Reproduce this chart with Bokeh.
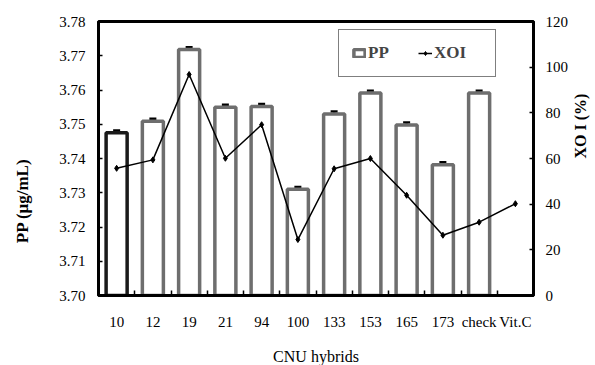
import math
from bokeh.plotting import figure
from bokeh.models import (Range1d, LinearAxis, FixedTicker, Whisker, ColumnDataSource,
                          Legend, LegendItem, TeeHead)
from bokeh.embed import file_html
from bokeh.resources import INLINE

categories = ["10", "12", "19", "21", "94", "100", "133", "153", "165", "173", "check", "Vit.C"]
pp = [3.7475, 3.7509, 3.7718, 3.7550, 3.7552, 3.7310, 3.7530, 3.7591, 3.7498, 3.7382, 3.7591]
pp_err = [0.0007, 0.0007, 0.0007, 0.0007, 0.0007, 0.0007, 0.0007, 0.0007, 0.0007, 0.0007, 0.0007]
xoi = [55.7, 59.4, 96.8, 60.1, 74.8, 24.5, 55.5, 60.0, 43.9, 26.4, 32.1, 40.2]
left_ticks = [3.70, 3.71, 3.72, 3.73, 3.74, 3.75, 3.76, 3.77, 3.78]
right_ticks = [0, 20, 40, 60, 80, 100, 120]

FONT = "Liberation Serif"
pos = list(range(1, len(categories) + 1))
bar_pos = pos[:len(pp)]
bar_colors = ["#1a1a1a"] + ["#6e6e6e"] * (len(pp) - 1)
x_lo, x_hi = 0.5, len(categories) + 0.5

p = figure(frame_width=435, frame_height=274, output_backend="svg", toolbar_location=None,
           x_range=Range1d(x_lo, x_hi), y_range=Range1d(left_ticks[0], left_ticks[-1]))
p.min_border_left = 97
p.min_border_right = 58
p.min_border_top = 21
p.min_border_bottom = 65
p.grid.visible = False
p.outline_line_color = "black"
p.outline_line_width = 3
p.background_fill_color = "white"
p.border_fill_color = "white"

p.extra_y_ranges = {"xoi": Range1d(right_ticks[0], right_ticks[-1])}

src = ColumnDataSource(dict(x=bar_pos, top=pp, lower=[v - e for v, e in zip(pp, pp_err)],
                            upper=[v + e for v, e in zip(pp, pp_err)], color=bar_colors))
bars = p.vbar(x="x", top="top", bottom=left_ticks[0], width=0.58, source=src,
              fill_color="white", line_color="color", line_width=3.5)
w = Whisker(base="x", lower="lower", upper="upper", source=src, line_color="black", line_width=2.5,
            upper_head=TeeHead(size=7, line_color="black", line_width=2.5),
            lower_head=TeeHead(size=7, line_color="black", line_width=2.5))
p.add_layout(w)

line = p.line(pos, xoi, line_color="black", line_width=1.5, y_range_name="xoi")
pts = p.scatter(pos, xoi, marker="diamond", size=6, color="black", y_range_name="xoi")

# axes styling
xa = p.xaxis[0]
xa.ticker = FixedTicker(ticks=pos, minor_ticks=[v + 0.5 for v in pos[:-1]])
xa.major_label_overrides = {v: c for v, c in zip(pos, categories)}
xa.major_tick_line_color = None
xa.minor_tick_in = 5
xa.minor_tick_out = 0
xa.minor_tick_line_width = 1.5
xa.axis_label = "CNU hybrids"
xa.major_label_standoff = 12
xa.axis_label_standoff = 15

ya = p.yaxis[0]
ya.ticker = FixedTicker(ticks=left_ticks)
ya.major_label_overrides = {v: f"{v:.2f}" for v in left_ticks}
ya.major_label_standoff = 13
ya.axis_label = "PP (μg/mL)"
ya.axis_label_orientation = math.pi / 2
ya.axis_label_text_align = "right"
ya.axis_label_text_baseline = "middle"
ya.axis_label_standoff = 34

ra = LinearAxis(y_range_name="xoi", ticker=FixedTicker(ticks=right_ticks), axis_label="XO I (%)")
ra.major_label_standoff = 12
ra.axis_label_orientation = math.pi / 2
ra.axis_label_text_align = "center"
ra.axis_label_text_baseline = "middle"
ra.axis_label_standoff = 9
p.add_layout(ra, "right")

for ax in [xa, ya, ra]:
    ax.axis_line_color = "black"
    ax.axis_line_width = 3
    ax.major_label_text_font = FONT
    ax.major_label_text_font_size = "15px"
    ax.major_label_text_color = "black"
    ax.axis_label_text_font = FONT
    ax.axis_label_text_color = "black"
for ax in [ya, ra]:
    ax.major_tick_in = 4
    ax.major_tick_out = 0
    ax.major_tick_line_width = 1.5
    ax.minor_tick_line_color = None
    ax.axis_label_text_font_style = "bold"
xa.axis_label_text_font_style = "normal"
xa.axis_label_text_font_size = "16px"
ya.axis_label_text_font_size = "17px"
ra.axis_label_text_font_size = "16px"

legend = Legend(items=[LegendItem(label="PP", renderers=[bars], index=1),
                       LegendItem(label="XOI", renderers=[line, pts])],
                orientation="horizontal", location=(240, 218))
legend.label_text_font = FONT
legend.label_text_font_style = "bold"
legend.label_text_font_size = "17px"
legend.border_line_color = "black"
legend.border_line_width = 1.5
legend.padding = 13
legend.margin = 0
legend.spacing = 2
legend.glyph_width = 14
legend.glyph_height = 10
legend.label_width = 48
legend.label_standoff = 2
legend.background_fill_alpha = 1
p.add_layout(legend, "center")

open("out.html", "w").write(file_html(p, INLINE))
